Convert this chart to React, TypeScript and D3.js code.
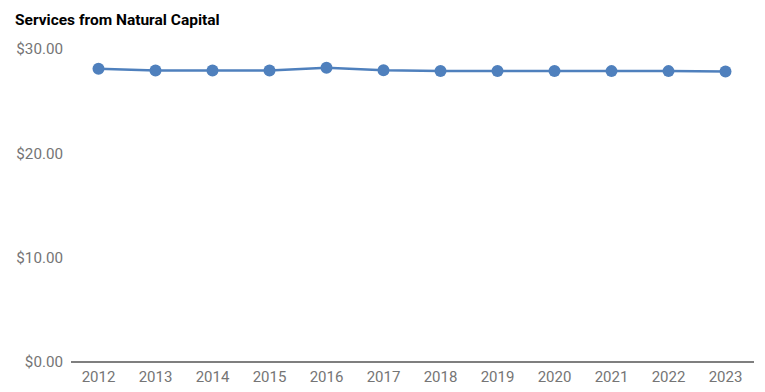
import React from "react";
import * as d3 from "d3";

const title = "Services from Natural Capital";
const years = ["2012","2013","2014","2015","2016","2017","2018","2019","2020","2021","2022","2023"];
const values = [28.1, 27.95, 27.95, 27.95, 28.2, 27.97, 27.9, 27.9, 27.9, 27.88, 27.88, 27.85];
const yTicks = [0, 10, 20, 30];

export default function App() {
  const W = 765, H = 392;
  const left = 71, right = 754, top = 49, bottom = 362;
  const x = d3.scaleBand<string>().domain(years).range([left - 1, right + 0]).padding(0);
  const y = d3.scaleLinear().domain([0, 30]).range([bottom, top]);
  const line = d3.line<number>().x((_, i) => (x(years[i]) as number) + x.bandwidth() / 2).y(d => y(d));
  const fmt = (v: number) => "$" + v.toFixed(2);
  const font = "Roboto, 'Noto Sans', sans-serif";
  return (
    <svg width={W} height={H} style={{ position: "absolute", left: 0, top: 0 }} fontFamily={font}>
      <rect width={W} height={H} fill="#fff" />
      <text x={15} y={25} fontSize={15.5} fontWeight="bold" fill="#000">{title}</text>
      {yTicks.map(t => (
        <text key={t} x={63} y={y(t)} dy="0.35em" textAnchor="end" fontSize={15.2} fill="#757575">{fmt(t)}</text>
      ))}
      <line x1={left} x2={right} y1={bottom} y2={bottom} stroke="#555" strokeWidth={1.5} />
      {years.map(yr => (
        <text key={yr} x={(x(yr) as number) + x.bandwidth() / 2} y={377} dy="0.35em" textAnchor="middle" fontSize={15} fill="#757575">{yr}</text>
      ))}
      <path d={line(values) || ""} fill="none" stroke="#4f80bd" strokeWidth={2.5} />
      {values.map((v, i) => (
        <circle key={i} cx={(x(years[i]) as number) + x.bandwidth() / 2} cy={y(v)} r={6} fill="#4f80bd" />
      ))}
    </svg>
  );
}
